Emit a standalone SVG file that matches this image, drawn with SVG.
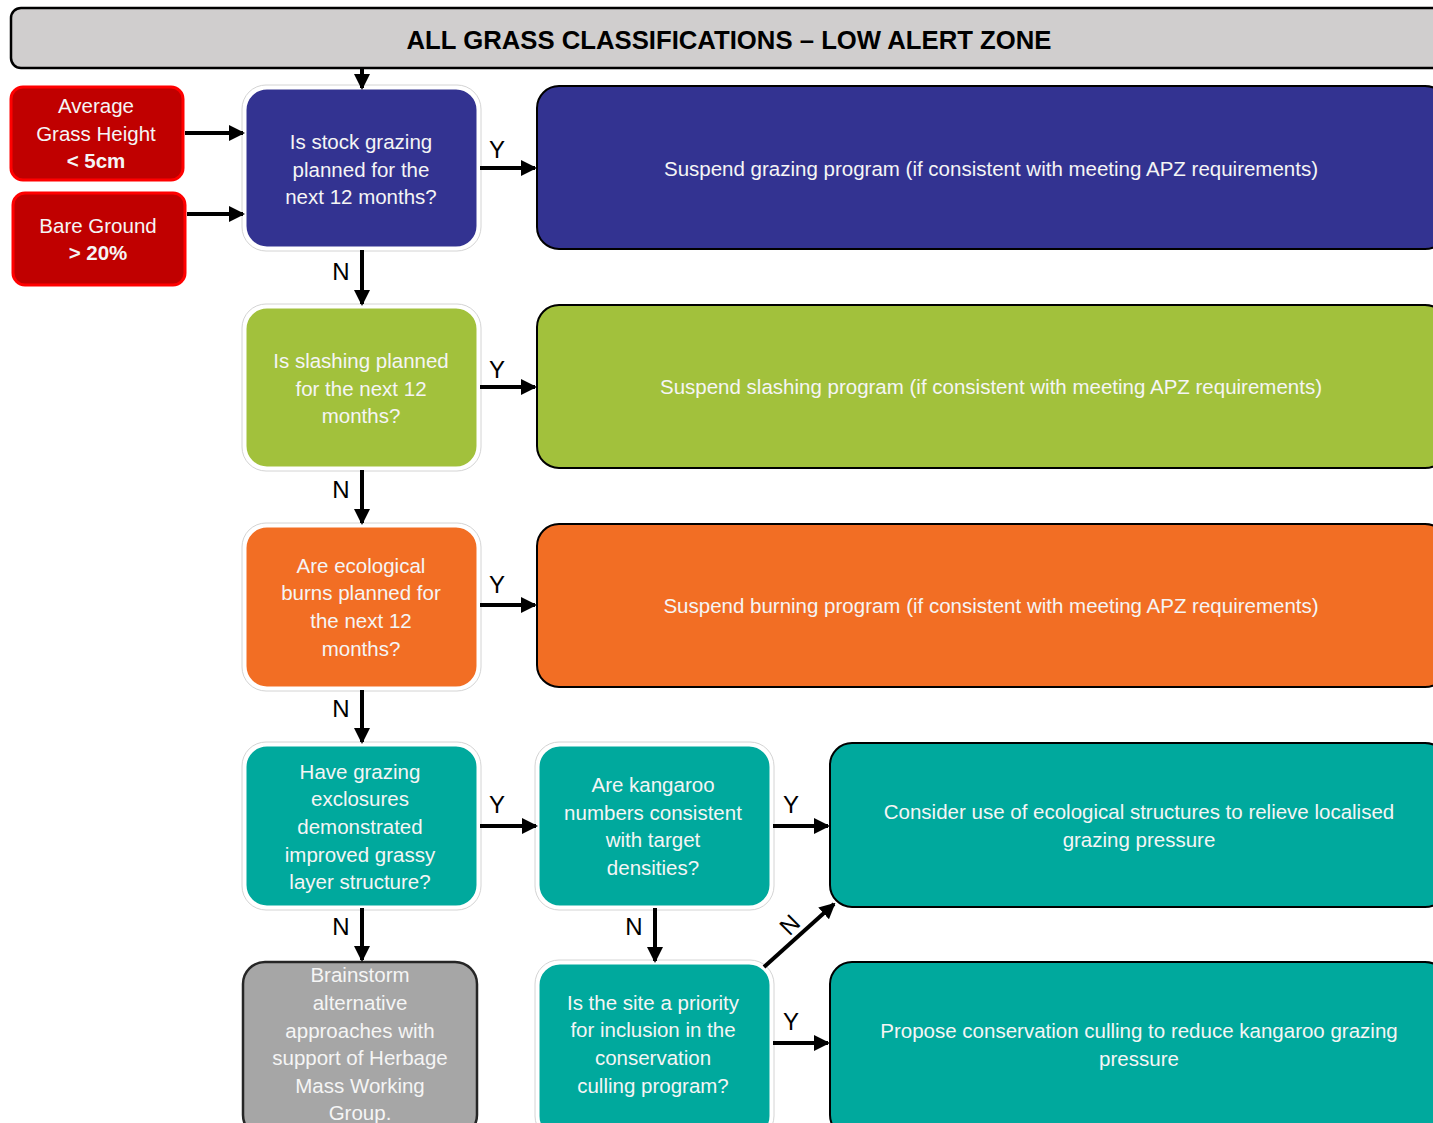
<svg xmlns="http://www.w3.org/2000/svg" width="1433" height="1123" viewBox="0 0 1433 1123">
<style>
.t{font-family:"Liberation Sans",Arial,sans-serif;font-size:20.5px;fill:#f5f5f5;text-anchor:middle}
.b{font-weight:bold}
.lbl{font-family:"Liberation Sans",Arial,sans-serif;font-size:24px;fill:#000;text-anchor:middle}
.q{stroke:#fff;stroke-width:3}
.qo{fill:none;stroke:#d4d4d4;stroke-width:1}
.r{stroke:#000;stroke-width:2}
.red{fill:#c00000;stroke:#ff0000;stroke-width:3}
.con{stroke:#000;stroke-width:4;fill:none;marker-end:url(#ah)}
</style>
<defs>
<marker id="ah" markerUnits="userSpaceOnUse" markerWidth="16" markerHeight="16" refX="14" refY="8" orient="auto">
<path d="M0,0 L16,8 L0,16 Z" fill="#000"/>
</marker>
</defs>
<rect width="1433" height="1123" fill="#fff"/>

<g id="header">
<rect x="11" y="8" width="1440" height="60" rx="10" fill="#d0cece" stroke="#000" stroke-width="2.5"/>
<text x="729" y="49" font-family="Liberation Sans,Arial,sans-serif" font-weight="bold" font-size="26" text-anchor="middle" textLength="645" lengthAdjust="spacingAndGlyphs">ALL GRASS CLASSIFICATIONS – LOW ALERT ZONE</text>
</g>

<g id="grass-height">
<rect class="red" x="11" y="87" width="172" height="93" rx="12"/>
<text class="t" x="96" y="113" fill="#fff">Average</text>
<text class="t" x="96" y="141">Grass Height</text>
<text class="t b" x="96" y="168">&lt; 5cm</text>
</g>

<g id="bare-ground">
<rect class="red" x="13" y="193" width="172" height="92" rx="12"/>
<text class="t" x="98" y="233">Bare Ground</text>
<text class="t b" x="98" y="260">&gt; 20%</text>
</g>

<g id="q-grazing">
<rect class="qo" x="242" y="85" width="239" height="166" rx="24"/>
<rect class="q" x="245" y="88" width="233" height="160" rx="22" fill="#333391"/>
<text class="t" x="361" y="149">Is stock grazing</text>
<text class="t" x="361" y="177">planned for the</text>
<text class="t" x="361" y="204">next 12 months?</text>
</g>

<g id="suspend-grazing">
<rect class="r" x="537" y="86" width="910" height="163" rx="22" fill="#333391"/>
<text class="t" x="991" y="176">Suspend grazing program (if consistent with meeting APZ requirements)</text>
</g>

<g id="q-slashing">
<rect class="qo" x="242" y="304" width="239" height="167" rx="24"/>
<rect class="q" x="245" y="307" width="233" height="161" rx="22" fill="#a2c13c"/>
<text class="t" x="361" y="368">Is slashing planned</text>
<text class="t" x="361" y="396">for the next 12</text>
<text class="t" x="361" y="423">months?</text>
</g>

<g id="suspend-slashing">
<rect class="r" x="537" y="305" width="910" height="163" rx="22" fill="#a2c13c"/>
<text class="t" x="991" y="394">Suspend slashing program (if consistent with meeting APZ requirements)</text>
</g>

<g id="q-burns">
<rect class="qo" x="242" y="523" width="239" height="168" rx="24"/>
<rect class="q" x="245" y="526" width="233" height="162" rx="22" fill="#f26e24"/>
<text class="t" x="361" y="573">Are ecological</text>
<text class="t" x="361" y="600">burns planned for</text>
<text class="t" x="361" y="628">the next 12</text>
<text class="t" x="361" y="656">months?</text>
</g>

<g id="suspend-burning">
<rect class="r" x="537" y="524" width="910" height="163" rx="22" fill="#f26e24"/>
<text class="t" x="991" y="613">Suspend burning program (if consistent with meeting APZ requirements)</text>
</g>

<g id="q-exclosures">
<rect class="qo" x="242" y="742" width="239" height="168" rx="24"/>
<rect class="q" x="245" y="745" width="233" height="162" rx="22" fill="#00a99d"/>
<text class="t" x="360" y="779">Have grazing</text>
<text class="t" x="360" y="806">exclosures</text>
<text class="t" x="360" y="834">demonstrated</text>
<text class="t" x="360" y="862">improved grassy</text>
<text class="t" x="360" y="889">layer structure?</text>
</g>

<g id="q-kangaroo">
<rect class="qo" x="535" y="742" width="239" height="168" rx="24"/>
<rect class="q" x="538" y="745" width="233" height="162" rx="22" fill="#00a99d"/>
<text class="t" x="653" y="792">Are kangaroo</text>
<text class="t" x="653" y="820">numbers consistent</text>
<text class="t" x="653" y="847">with target</text>
<text class="t" x="653" y="875">densities?</text>
</g>

<g id="ecological-structures">
<rect class="r" x="830" y="743" width="617" height="164" rx="22" fill="#00a99d"/>
<text class="t" x="1139" y="819">Consider use of ecological structures to relieve localised</text>
<text class="t" x="1139" y="847">grazing pressure</text>
</g>

<g id="brainstorm">
<rect x="243" y="962" width="234" height="175" rx="22" fill="#a6a6a6" stroke="#262626" stroke-width="2.5"/>
<text class="t" x="360" y="982">Brainstorm</text>
<text class="t" x="360" y="1010">alternative</text>
<text class="t" x="360" y="1038">approaches with</text>
<text class="t" x="360" y="1065">support of Herbage</text>
<text class="t" x="360" y="1093">Mass Working</text>
<text class="t" x="360" y="1120">Group.</text>
</g>

<g id="q-priority">
<rect class="qo" x="535" y="960" width="239" height="180" rx="24"/>
<rect class="q" x="538" y="963" width="233" height="175" rx="22" fill="#00a99d"/>
<text class="t" x="653" y="1010">Is the site a priority</text>
<text class="t" x="653" y="1037">for inclusion in the</text>
<text class="t" x="653" y="1065">conservation</text>
<text class="t" x="653" y="1093">culling program?</text>
</g>

<g id="propose-culling">
<rect class="r" x="830" y="962" width="617" height="175" rx="22" fill="#00a99d"/>
<text class="t" x="1139" y="1038">Propose conservation culling to reduce kangaroo grazing</text>
<text class="t" x="1139" y="1066">pressure</text>
</g>

<g id="connectors">
<line class="con" x1="362" y1="68" x2="362" y2="88"/>
<line class="con" x1="185" y1="133" x2="243" y2="133"/>
<line class="con" x1="187" y1="214" x2="243" y2="214"/>
<line class="con" x1="480" y1="168" x2="535" y2="168"/>
<line class="con" x1="362" y1="250" x2="362" y2="304"/>
<line class="con" x1="480" y1="387" x2="535" y2="387"/>
<line class="con" x1="362" y1="470" x2="362" y2="523"/>
<line class="con" x1="480" y1="605" x2="535" y2="605"/>
<line class="con" x1="362" y1="690" x2="362" y2="742"/>
<line class="con" x1="480" y1="826" x2="536" y2="826"/>
<line class="con" x1="362" y1="908" x2="362" y2="960"/>
<line class="con" x1="773" y1="826" x2="828" y2="826"/>
<line class="con" x1="655" y1="908" x2="655" y2="961"/>
<line class="con" x1="764" y1="967" x2="834" y2="904"/>
<line class="con" x1="773" y1="1043" x2="828" y2="1043"/>
<text class="lbl" x="497" y="158">Y</text>
<text class="lbl" x="341" y="280">N</text>
<text class="lbl" x="497" y="378">Y</text>
<text class="lbl" x="341" y="498">N</text>
<text class="lbl" x="497" y="593">Y</text>
<text class="lbl" x="341" y="717">N</text>
<text class="lbl" x="497" y="813">Y</text>
<text class="lbl" x="341" y="935">N</text>
<text class="lbl" x="791" y="813">Y</text>
<text class="lbl" x="634" y="935">N</text>
<text class="lbl" x="791" y="1030">Y</text>
<text class="lbl" x="0" y="0" transform="translate(790,925) rotate(-45) translate(0,8)">N</text>
</g>
</svg>
